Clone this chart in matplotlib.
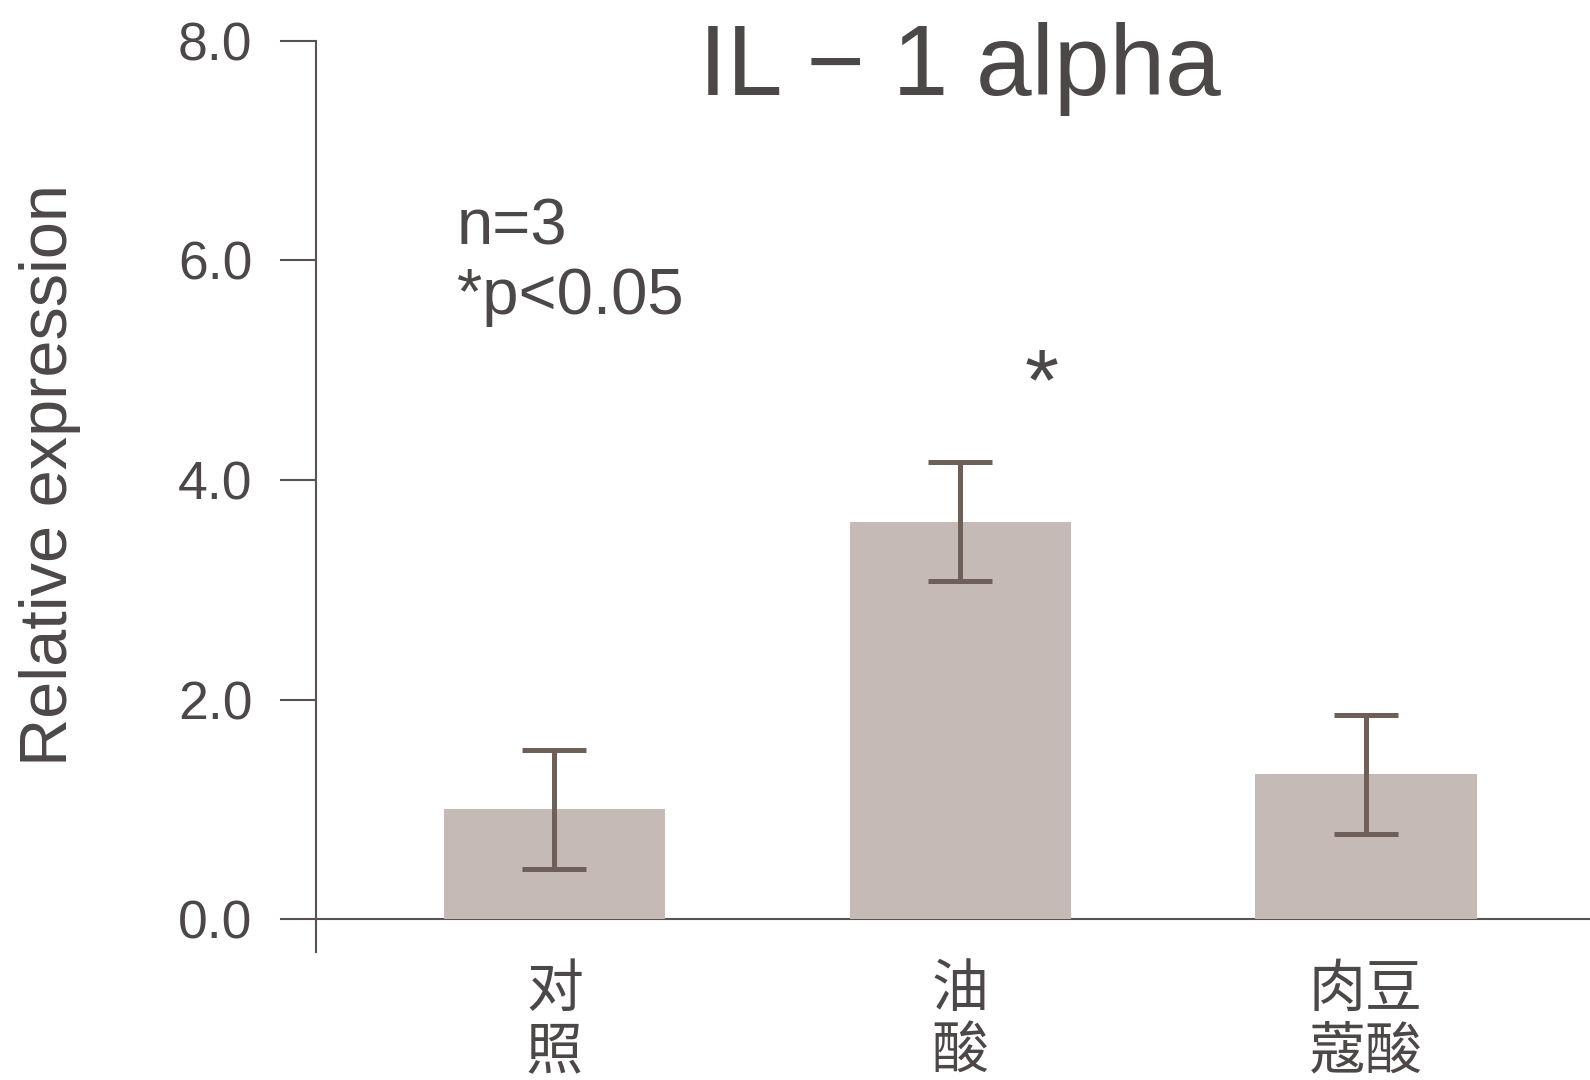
import matplotlib
matplotlib.use("Agg")
import matplotlib.pyplot as plt

# relative IL-1 alpha expression, mean and error per treatment
groups = ["对\n照", "油\n酸", "肉豆\n蔻酸"]
means = [1.0, 3.62, 1.32]
errs = [0.54, 0.54, 0.54]
yticks = [0.0, 2.0, 4.0, 6.0, 8.0]
sig_group = 1

TEXT = "#4d4848"
BAR = "#c5bab5"
ERR = "#6e6058"
AXIS = "#5a5252"
FONTS = ["Liberation Sans", "Noto Sans CJK SC", "DejaVu Sans"]

plt.rcParams["font.family"] = FONTS

fig = plt.figure(figsize=(15.9, 10.8), dpi=100)
ax = fig.add_axes([0.1989, 0.1188, 0.8011, 0.8435])

x = list(range(len(groups)))
ax.bar(x, means, width=0.545, color=BAR, zorder=2)
ax.errorbar(x, means, yerr=errs, fmt="none", ecolor=ERR, elinewidth=3.6,
            capsize=23, capthick=3.6, zorder=3)
ax.axhline(0, color=AXIS, lw=1.5, zorder=1)

ax.set_xlim(-0.587, 2.552)
ax.set_ylim(-0.295, 8.0)
ax.set_yticks(yticks)
ax.set_yticklabels([f"{v:.1f}" for v in yticks])
ax.set_xticks(x)
ax.set_xticklabels(groups, fontsize=41, color=TEXT, linespacing=1.1,
                   family=["Noto Sans CJK SC"])

for side in ["top", "right", "bottom"]:
    ax.spines[side].set_visible(False)
ax.spines["left"].set_color(AXIS)
ax.spines["left"].set_linewidth(1.5)
ax.tick_params(axis="y", length=26, width=1.5, color=AXIS, pad=20,
               labelsize=38.5, labelcolor=TEXT)
ax.tick_params(axis="x", length=0, pad=6)

fig.text(50 / 1590, 1 - 475 / 1080, "Relative expression", rotation=90,
         ha="center", va="center", fontsize=48, color=TEXT)

ax.text(1.0, 7.51, "IL \u2212 1 alpha", ha="center", va="baseline",
        fontsize=72, color=TEXT)
ax.text(-0.24, 5.51, "n=3\n*p<0.05", ha="left", va="baseline",
        fontsize=47, color=TEXT, linespacing=1.2)
ax.text(sig_group + 0.2, 4.64, "*", ha="center", va="baseline",
        fontsize=63, color=TEXT)

fig.savefig("out.png", dpi=100)
